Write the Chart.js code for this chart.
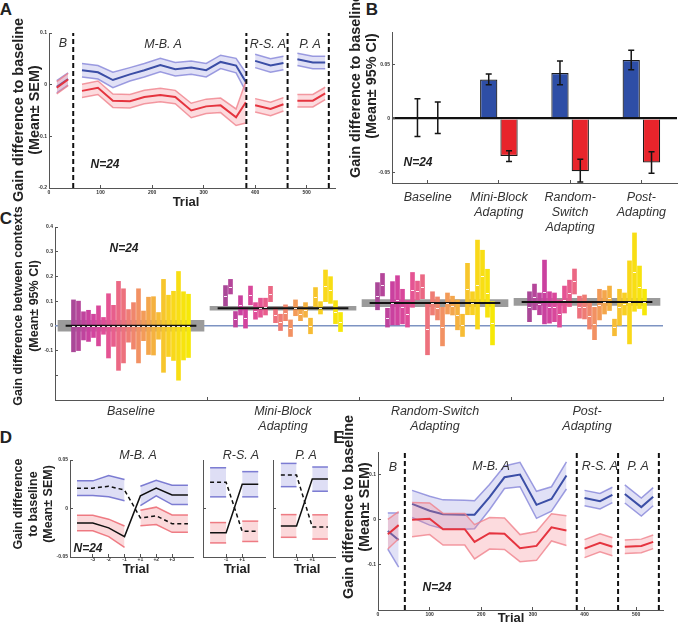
<!DOCTYPE html>
<html>
<head>
<meta charset="utf-8">
<script src="https://cdn.jsdelivr.net/npm/chart.js@4.4.1/dist/chart.umd.min.js"></script>
<style>
  body { margin: 0; background: #fff; }
  #fig { position: relative; width: 693px; height: 627px; overflow: hidden; font-family: 'Liberation Sans', Arial, sans-serif; color: #222; }
  .t { position: absolute; white-space: nowrap; transform: translate(-50%, -50%); text-align: center; }
  .v { position: absolute; white-space: nowrap; transform: translate(-50%, -50%) rotate(-90deg); text-align: center; font-weight: bold; }
  canvas { position: absolute; }
</style>
</head>
<body>
<div id="fig"></div>
<script>
// ---- panel A : gain difference to baseline, trial bins ----
const aBounds = [47, 383, 463, 543];
const aTrialB = [15, 37];
const aBlueB = [-0.004, 0.011];
const aBlueSemB = [0.012, 0.012];
const aRedB = [-0.006, 0.010];
const aRedSemB = [0.012, 0.012];
const aTrialMB = [64, 95, 124, 157, 185, 216, 245, 276, 305, 333, 363, 382];
const aBlueMB = [0.028, 0.024, 0.009, 0.020, 0.028, 0.038, 0.030, 0.033, 0.028, 0.044, 0.037, 0.005];
const aBlueSemMB = [0.013, 0.013, 0.015, 0.013, 0.013, 0.013, 0.013, 0.013, 0.013, 0.013, 0.014, 0.018];
const aRedMB = [-0.012, -0.006, -0.031, -0.032, -0.024, -0.020, -0.024, -0.050, -0.042, -0.040, -0.063, -0.034];
const aRedSemMB = [0.013, 0.013, 0.013, 0.013, 0.013, 0.013, 0.013, 0.014, 0.014, 0.014, 0.016, 0.040];
const aTrialRS = [400, 430, 455];
const aBlueRS = [0.046, 0.037, 0.042];
const aBlueSemRS = [0.013, 0.013, 0.013];
const aRedRS = [-0.040, -0.047, -0.038];
const aRedSemRS = [0.013, 0.013, 0.013];
const aTrialPA = [482, 512, 536];
const aBluePA = [0.049, 0.043, 0.043];
const aBlueSemPA = [0.012, 0.012, 0.012];
const aRedPA = [-0.031, -0.031, -0.017];
const aRedSemPA = [0.012, 0.012, 0.012];

// ---- panel B : bars with 95% CI ----
const bCats = [['Baseline'], ['Mini-Block', 'Adapting'], ['Random-', 'Switch', 'Adapting'], ['Post-', 'Adapting']];
const bBlue = [0, 0.036, 0.042, 0.054];
const bBlueLo = [-0.017, 0.031, 0.031, 0.045];
const bBlueHi = [0.018, 0.041, 0.053, 0.063];
const bRed = [0, -0.035, -0.049, -0.041];
const bRedLo = [-0.014, -0.040, -0.059, -0.051];
const bRedHi = [0.015, -0.030, -0.038, -0.031];

// ---- panel C : per-subject differences between contexts (24 subjects) ----
const cCats = [['Baseline'], ['Mini-Block', 'Adapting'], ['Random-Switch', 'Adapting'], ['Post-', 'Adapting']];
const cBaseHi = [0.105, 0.100, 0.057, 0.063, 0.047, 0.081, 0.034, 0.130, 0.083, 0.180, 0.150, 0.066, 0.094, 0.150, 0.060, 0.116, 0.118, 0.054, 0.188, 0.124, 0.140, 0.220, 0.138, 0.128];
const cBaseLo = [-0.105, -0.100, -0.057, -0.063, -0.047, -0.081, -0.034, -0.130, -0.083, -0.180, -0.150, -0.066, -0.094, -0.150, -0.060, -0.116, -0.118, -0.054, -0.188, -0.124, -0.140, -0.220, -0.138, -0.128];
const cMbHi = [0.163, 0.188, 0.058, 0.122, 0.075, 0.161, 0.094, 0.112, 0.112, 0.160, 0.075, 0.047, 0.085, 0.024, 0.105, 0.075, 0.094, 0.031, 0.155, 0.098, 0.226, 0.199, 0.102, 0.054];
const cMbLo = [0.081, 0.129, -0.005, 0.044, -0.009, 0.085, 0.027, 0.035, 0.044, 0.098, 0.013, -0.019, 0.021, -0.043, 0.041, 0.021, 0.035, -0.032, 0.078, 0.048, 0.098, 0.091, 0.009, -0.023];
const cRsHi = [0.175, 0.212, 0.071, 0.179, 0.203, 0.148, 0.102, 0.216, 0.181, 0.207, 0.094, 0.138, 0.117, 0.075, 0.133, 0.120, 0.105, 0.047, 0.253, 0.138, 0.347, 0.306, 0.229, 0.098];
const cRsLo = [0.065, 0.121, -0.005, 0.004, 0.004, 0.008, -0.005, 0.075, 0.105, 0.110, -0.117, 0.044, 0.024, -0.081, 0.048, 0.044, -0.016, -0.043, 0.045, 0.045, -0.013, 0.098, 0.035, -0.077];
const cPaHi = [0.138, 0.169, 0.133, 0.266, 0.138, 0.133, 0.105, 0.161, 0.185, 0.230, 0.120, 0.125, 0.094, 0.075, 0.148, 0.143, 0.161, 0.027, 0.148, 0.133, 0.263, 0.376, 0.242, 0.148];
const cPaLo = [0.017, 0.065, 0.045, 0.008, 0.011, 0.017, -0.005, 0.052, 0.078, 0.129, 0.031, 0.028, -0.013, -0.056, 0.024, 0.048, 0.062, -0.040, 0.000, 0.044, -0.073, 0.059, 0.070, 0.044];
const cMean = [0, 0.071, 0.092, 0.097];
const cCi = [0.022, 0.008, 0.014, 0.014];

// ---- panel D : around context switches ----
const dLabelsMB = ['-3', '-2', '-1', '+1', '+2', '+3'];
const dBlueMB = [0.021, 0.021, 0.023, 0.019, 0.013, 0.021, 0.014, 0.014];
const dBlueSemMB = [0.0075, 0.0075, 0.011, 0.011, 0.010, 0.008, 0.010, 0.010];
const dRedMB = [-0.015, -0.015, -0.020, -0.029, -0.0097, -0.0076, -0.0156, -0.0156];
const dRedSemMB = [0.008, 0.008, 0.009, 0.011, 0.008, 0.009, 0.009, 0.009];
const dLabelsShort = ['-1', '+1'];
const dBlueRS = [0.027, 0.027, 0.025, 0.025];
const dBlueSemRS = [0.015, 0.015, 0.013, 0.013];
const dRedRS = [-0.025, -0.025, -0.0235, -0.0235];
const dRedSemRS = [0.0105, 0.0105, 0.0105, 0.0105];
const dBluePA = [0.0345, 0.0345, 0.0303, 0.0303];
const dBlueSemPA = [0.012, 0.012, 0.0125, 0.0125];
const dRedPA = [-0.018, -0.018, -0.019, -0.019];
const dRedSemPA = [0.0117, 0.0117, 0.0125, 0.0125];

// ---- panel E ----
const eBounds = [52, 385, 465, 544];
const eTrialB = [19, 40];
const eBlueB = [-0.025, -0.045];
const eBlueSemB = [0.040, 0.060];
const eRedB = [-0.032, -0.012];
const eRedSemB = [0.033, 0.030];
const eTrialMB = [66, 100, 126, 168, 187, 216, 245, 275, 307, 336, 365];
const eBlueMB = [0.035, 0.020, 0.012, 0.011, 0.011, 0.050, 0.094, 0.100, 0.033, 0.046, 0.098];
const eBlueSemMB = [0.030, 0.032, 0.032, 0.032, 0.031, 0.028, 0.025, 0.027, 0.030, 0.027, 0.030];
const eRedMB = [0.000, 0.002, -0.021, -0.021, -0.049, -0.030, -0.031, -0.063, -0.058, -0.017, -0.024];
const eRedSemMB = [0.038, 0.035, 0.035, 0.035, 0.038, 0.035, 0.035, 0.030, 0.032, 0.030, 0.033];
const eTrialRS = [400, 430, 454];
const eBlueRS = [0.048, 0.041, 0.055];
const eBlueSemRS = [0.017, 0.017, 0.017];
const eRedRS = [-0.064, -0.051, -0.060];
const eRedSemRS = [0.020, 0.020, 0.020];
const eTrialPA = [478, 510, 533];
const eBluePA = [0.057, 0.028, 0.051];
const eBlueSemPA = [0.020, 0.020, 0.020];
const eRedPA = [-0.060, -0.058, -0.049];
const eRedSemPA = [0.015, 0.015, 0.015];

Chart.defaults.font.family = "'Liberation Sans', Arial, sans-serif";
Chart.defaults.color = '#333';
Chart.defaults.animation = false;
Chart.defaults.plugins.legend.display = false;
Chart.defaults.plugins.tooltip.enabled = false;
Chart.defaults.elements.point.radius = 0;
Chart.defaults.elements.line.tension = 0;

const fig = document.getElementById('fig');
const tickFont = { size: 5, weight: 'bold' };
const BLUE = { line: '#3b4ea6', edge: 'rgba(125,125,215,0.75)', fill: 'rgba(135,135,220,0.25)' };
const RED = { line: '#e5343f', edge: 'rgba(240,130,140,0.8)', fill: 'rgba(245,135,145,0.3)' };
const DBLUE = { edge: 'rgba(95,95,200,0.8)', fill: 'rgba(160,160,225,0.35)' };
const DRED = { edge: 'rgba(235,95,105,0.8)', fill: 'rgba(245,160,165,0.4)' };

function txt(x, y, s, css, cls) {
  const d = document.createElement('div');
  d.className = cls || 't';
  d.innerHTML = s;
  d.style.cssText = 'left:' + x + 'px;top:' + y + 'px;' + (css || '');
  fig.appendChild(d);
}

function fmt(v) {
  const r = Math.round(v * 100) / 100;
  return r === 0 ? '0' : String(r);
}

function lin(min, max, o) {
  o = o || {};
  const ticks = { font: o.font || tickFont, color: '#333', padding: o.pad !== undefined ? o.pad : 5,
    autoSkip: false, maxRotation: 0, includeBounds: false };
  if (o.step) ticks.stepSize = o.step;
  if (o.cb) ticks.callback = o.cb;
  const ax = { type: 'linear', min: min, max: max, offset: false,
    grid: { drawOnChartArea: false, tickLength: -3, tickColor: '#555' },
    border: { color: '#555' }, ticks: ticks };
  if (o.at) ax.afterBuildTicks = s => { s.ticks = o.at.map(v => ({ value: v })); };
  return ax;
}

function makeChart(area, m, config) {
  const cv = document.createElement('canvas');
  const w = area.r - area.l + m.l + m.r, h = area.b - area.t + m.t + m.b;
  cv.width = w; cv.height = h;
  cv.style.left = (area.l - m.l) + 'px'; cv.style.top = (area.t - m.t) + 'px';
  cv.style.width = w + 'px'; cv.style.height = h + 'px';
  fig.appendChild(cv);
  config.options.responsive = false;
  config.options.devicePixelRatio = 1;
  config.options.layout = { padding: { top: m.t, right: m.r, left: 0, bottom: 0 }, autoPadding: false };
  config.options.scales.x.afterFit = s => { s.height = m.b; s.paddingLeft = 0; s.paddingRight = 0; };
  config.options.scales.y.afterFit = s => { s.width = m.l; s.paddingTop = 0; s.paddingBottom = 0; };
  return new Chart(cv, config);
}

// mean line with a shaded +-SEM band
function band(list, xs, mean, sem, c, ord) {
  const up = xs.map((x, i) => ({ x: x, y: mean[i] + sem[i] }));
  const lo = xs.map((x, i) => ({ x: x, y: mean[i] - sem[i] }));
  list.push({ type: 'line', data: up, borderColor: c.edge, borderWidth: 1.5, fill: false, order: ord + 0.1 });
  list.push({ type: 'line', data: lo, borderColor: c.edge, borderWidth: 1.5, fill: '-1', backgroundColor: c.fill, order: ord + 0.1 });
  if (c.line) list.push({ type: 'line', data: xs.map((x, i) => ({ x: x, y: mean[i] })), borderColor: c.line, borderWidth: 2, fill: false, order: ord });
}

function bounds(list, xs, y0, y1) {
  xs.forEach(x => list.push({ type: 'line', data: [{ x: x, y: y0 }, { x: x, y: y1 }],
    borderColor: '#111', borderWidth: 2, borderDash: [5, 3], fill: false, order: 0 }));
}

const errorBars = {
  id: 'errorBars',
  afterDatasetsDraw(chart) {
    const ctx = chart.ctx, ys = chart.scales.y;
    chart.data.datasets.forEach((ds, i) => {
      if (!ds.errLo) return;
      chart.getDatasetMeta(i).data.forEach((el, j) => {
        const x = el.x, y1 = ys.getPixelForValue(ds.errLo[j]), y2 = ys.getPixelForValue(ds.errHi[j]);
        ctx.save();
        ctx.strokeStyle = '#151515'; ctx.lineWidth = 1.5;
        ctx.beginPath();
        ctx.moveTo(x, y1); ctx.lineTo(x, y2);
        ctx.moveTo(x - 3, y1); ctx.lineTo(x + 3, y1);
        ctx.moveTo(x - 3, y2); ctx.lineTo(x + 3, y2);
        ctx.stroke();
        ctx.restore();
      });
    });
  }
};

const meanTicks = {
  id: 'meanTicks',
  afterDatasetsDraw(chart) {
    const ctx = chart.ctx;
    chart.data.datasets.forEach((ds, i) => {
      if (!ds.meanTick) return;
      chart.getDatasetMeta(i).data.forEach(el => {
        const y = Math.round((el.y + el.base) / 2) + 0.5;
        ctx.save();
        ctx.strokeStyle = 'rgba(255,255,255,0.9)'; ctx.lineWidth = 1;
        ctx.beginPath(); ctx.moveTo(el.x - 1.5, y); ctx.lineTo(el.x + 1.5, y); ctx.stroke();
        ctx.restore();
      });
    });
  }
};

// ================= A =================
(function () {
  const ds = [];
  bounds(ds, aBounds, -0.2, 0.1);
  band(ds, aTrialB, aBlueB, aBlueSemB, BLUE, 2);
  band(ds, aTrialB, aRedB, aRedSemB, RED, 1);
  band(ds, aTrialMB, aBlueMB, aBlueSemMB, BLUE, 2);
  band(ds, aTrialMB, aRedMB, aRedSemMB, RED, 1);
  band(ds, aTrialRS, aBlueRS, aBlueSemRS, BLUE, 2);
  band(ds, aTrialRS, aRedRS, aRedSemRS, RED, 1);
  band(ds, aTrialPA, aBluePA, aBlueSemPA, BLUE, 2);
  band(ds, aTrialPA, aRedPA, aRedSemPA, RED, 1);
  makeChart({ l: 49, t: 33, r: 335, b: 188 }, { l: 20, t: 5, r: 5, b: 12 }, {
    type: 'line', data: { datasets: ds },
    options: { scales: { x: lin(0, 555, { step: 100, pad: 4.5 }), y: lin(-0.2, 0.1, { step: 0.1, pad: 5, cb: fmt }) } }
  });
})();

// ================= B =================
(function () {
  const yAx = lin(-0.06, 0.08, { at: [-0.05, 0, 0.05], pad: 5, cb: fmt });
  yAx.grid = { drawOnChartArea: true, tickLength: -3, tickColor: '#555',
    color: c => c.tick && c.tick.value === 0 ? '#111' : 'rgba(0,0,0,0)',
    lineWidth: c => c.tick && c.tick.value === 0 ? 2.2 : 1 };
  makeChart({ l: 392, t: 32, r: 677, b: 183 }, { l: 20, t: 5, r: 5, b: 58 }, {
    type: 'bar',
    data: { labels: bCats, datasets: [
      { data: bBlue, backgroundColor: '#2e4ea6', borderColor: '#1a1a1a', borderWidth: 1.2,
        categoryPercentage: 0.57, barPercentage: 0.85, errLo: bBlueLo, errHi: bBlueHi },
      { data: bRed, backgroundColor: '#e8242b', borderColor: '#1a1a1a', borderWidth: 1.2,
        categoryPercentage: 0.57, barPercentage: 0.85, errLo: bRedLo, errHi: bRedHi }
    ] },
    options: { scales: {
      x: { type: 'category', offset: true,
        grid: { offset: false, drawOnChartArea: false, tickLength: -3, tickColor: '#555' },
        border: { color: '#555' },
        ticks: { font: { size: 12.5, style: 'italic' }, color: '#333', padding: 10.5, maxRotation: 0, autoSkip: false } },
      y: yAx
    } },
    plugins: [errorBars]
  });
})();

// ================= C =================
(function () {
  const groups = [[cBaseLo, cBaseHi], [cMbLo, cMbHi], [cRsLo, cRsHi], [cPaLo, cPaHi]];
  const stops = [[170, 72, 152], [205, 64, 160], [228, 80, 150], [237, 112, 126], [242, 146, 98], [246, 182, 58], [249, 215, 28], [246, 232, 8]];
  function col(j) {
    const t = j / 23 * (stops.length - 1), k = Math.min(Math.floor(t), stops.length - 2), f = t - k;
    const c = stops[k].map((v, n) => Math.round(v + (stops[k + 1][n] - v) * f));
    return 'rgb(' + c.join(',') + ')';
  }
  const ds = [];
  ds.push({ type: 'line', data: [{ x: 0, y: 0 }, { x: 4, y: 0 }], borderColor: '#7d93c2', borderWidth: 1.5, order: 5 });
  ds.push({ type: 'bar', grouped: false, barThickness: 146, backgroundColor: '#9b9b9b', order: 4,
    data: cMean.map((m, g) => ({ x: g + 0.5, y: [m - cCi[g], m + cCi[g]] })) });
  groups.forEach((gr, g) => {
    ds.push({ type: 'bar', grouped: false, barThickness: 4, meanTick: true, order: 3,
      backgroundColor: gr[0].map((v, j) => col(j)),
      data: gr[0].map((lo, j) => ({ x: g + 0.5 + (j - 11.5) * 5 / 152, y: [lo, gr[1][j]] })) });
    ds.push({ type: 'line', data: [{ x: g + 0.5 - 0.43, y: cMean[g] }, { x: g + 0.5 + 0.43, y: cMean[g] }],
      borderColor: '#111', borderWidth: 2, order: 1 });
  });
  makeChart({ l: 55, t: 227, r: 663, b: 400 }, { l: 20, t: 5, r: 5, b: 40 }, {
    type: 'bar', data: { datasets: ds },
    options: { scales: {
      x: lin(0, 4, { at: [0.5, 1.5, 2.5, 3.5], font: { size: 12.5, style: 'italic' }, pad: 7.2, cb: (v, i) => cCats[i] }),
      y: lin(-0.3, 0.4, { step: 0.1, pad: 5, cb: v => v < -0.15 ? '' : fmt(v) })
    } },
    plugins: [meanTicks]
  });
})();

// ================= D =================
function dPanel(area, xmin, xmax, blue, blueSem, red, redSem, at, labels, yLabels) {
  const n = blue.length, h = n / 2;
  const xs = blue.map((v, i) => i);
  const pre = xs.slice(0, h), post = xs.slice(h);
  const ds = [];
  const solid = red.slice(0, h).concat(blue.slice(h));
  const dash = blue.slice(0, h).concat(red.slice(h));
  ds.push({ type: 'line', data: xs.map(i => ({ x: i, y: solid[i] })), borderColor: '#111', borderWidth: 1.5, order: 0 });
  ds.push({ type: 'line', data: xs.map(i => ({ x: i, y: dash[i] })), borderColor: '#111', borderWidth: 1.5, borderDash: [4, 3], order: 0 });
  band(ds, pre, blue.slice(0, h), blueSem.slice(0, h), DBLUE, 2);
  band(ds, post, blue.slice(h), blueSem.slice(h), DBLUE, 2);
  band(ds, pre, red.slice(0, h), redSem.slice(0, h), DRED, 2);
  band(ds, post, red.slice(h), redSem.slice(h), DRED, 2);
  makeChart(area, { l: yLabels ? 20 : 5, t: 5, r: 3, b: 12 }, {
    type: 'line', data: { datasets: ds },
    options: { scales: {
      x: lin(xmin, xmax, { at: at, pad: 2.5, cb: (v, i) => labels[i] }),
      y: yLabels ? lin(-0.05, 0.05, { at: [-0.05, 0, 0.05], pad: 5, cb: fmt })
                 : lin(-0.05, 0.05, { at: [0], cb: () => '' })
    } }
  });
}
dPanel({ l: 70, t: 460, r: 193, b: 557 }, -0.44, 7.32, dBlueMB, dBlueSemMB, dRedMB, dRedSemMB, [1, 2, 3, 4, 5, 6], dLabelsMB, true);
dPanel({ l: 203, t: 460, r: 265, b: 557 }, -0.44, 3.42, dBlueRS, dBlueSemRS, dRedRS, dRedSemRS, [1, 2], dLabelsShort, false);
dPanel({ l: 273, t: 460, r: 335, b: 557 }, -0.5, 3.45, dBluePA, dBlueSemPA, dRedPA, dRedSemPA, [1, 2], dLabelsShort, false);

// ================= E =================
(function () {
  const ds = [];
  bounds(ds, eBounds, -0.2, 0.15);
  band(ds, eTrialB, eBlueB, eBlueSemB, BLUE, 2);
  band(ds, eTrialB, eRedB, eRedSemB, RED, 1);
  band(ds, eTrialMB, eBlueMB, eBlueSemMB, BLUE, 2);
  band(ds, eTrialMB, eRedMB, eRedSemMB, RED, 1);
  band(ds, eTrialRS, eBlueRS, eBlueSemRS, BLUE, 2);
  band(ds, eTrialRS, eRedRS, eRedSemRS, RED, 1);
  band(ds, eTrialPA, eBluePA, eBlueSemPA, BLUE, 2);
  band(ds, eTrialPA, eRedPA, eRedSemPA, RED, 1);
  makeChart({ l: 378, t: 452, r: 663, b: 610 }, { l: 20, t: 5, r: 5, b: 12 }, {
    type: 'line', data: { datasets: ds },
    options: { scales: {
      x: lin(0, 552, { step: 100, pad: 4.5 }),
      y: lin(-0.2, 0.15, { step: 0.1, pad: 5, cb: v => v < -0.15 ? '' : fmt(v) })
    } }
  });
})();

// ================= text =================
const L = 'font-weight:bold;font-size:17px;';
txt(6, 10, 'A', L); txt(372, 10, 'B', L); txt(6, 219, 'C', L); txt(6, 438, 'D', L); txt(339, 438, 'E', L);

const it = 'font-style:italic;font-size:12.5px;color:#333;';
const nn = 'font-style:italic;font-weight:bold;font-size:12px;';
const tr = 'font-weight:bold;font-size:13px;';

// A
txt(26, 110, 'Gain difference to baseline<br>(Mean± SEM)', 'font-size:14.4px;line-height:16px;', 'v');
txt(63, 43, 'B', it); txt(163, 44, 'M-B. A', it); txt(268, 44, 'R-S. A', it); txt(310, 44, 'P. A', it);
txt(105, 164, 'N=24', nn);
txt(186, 201, 'Trial', tr);
// B
txt(363, 86, 'Gain difference to baseline<br>(Mean± 95% CI)', 'font-size:14.4px;line-height:16px;', 'v');
txt(418, 162, 'N=24', nn);
// C
txt(26, 306, 'Gain difference between contexts<br>(Mean± 95% CI)', 'font-size:12.5px;line-height:16px;', 'v');
txt(124, 248, 'N=24', nn);
// D
txt(33, 504, 'Gain difference<br>to baseline<br>(Mean± SEM)', 'font-size:12.5px;line-height:15px;', 'v');
txt(138, 455, 'M-B. A', it); txt(241, 455, 'R-S. A', it); txt(306, 455, 'P. A', it);
txt(136, 568, 'Trial', tr); txt(237, 568, 'Trial', tr); txt(307, 568, 'Trial', tr);
txt(88, 548, 'N=24', nn);
// E
txt(356, 507, 'Gain difference to baseline<br>(Mean± SEM)', 'font-size:14.4px;line-height:16px;', 'v');
txt(393, 467, 'B', it); txt(491, 466, 'M-B. A', it); txt(600, 466, 'R-S. A', it); txt(638, 466, 'P. A', it);
txt(437, 587, 'N=24', nn);
txt(511, 617, 'Trial', tr);
</script>
</body>
</html>
